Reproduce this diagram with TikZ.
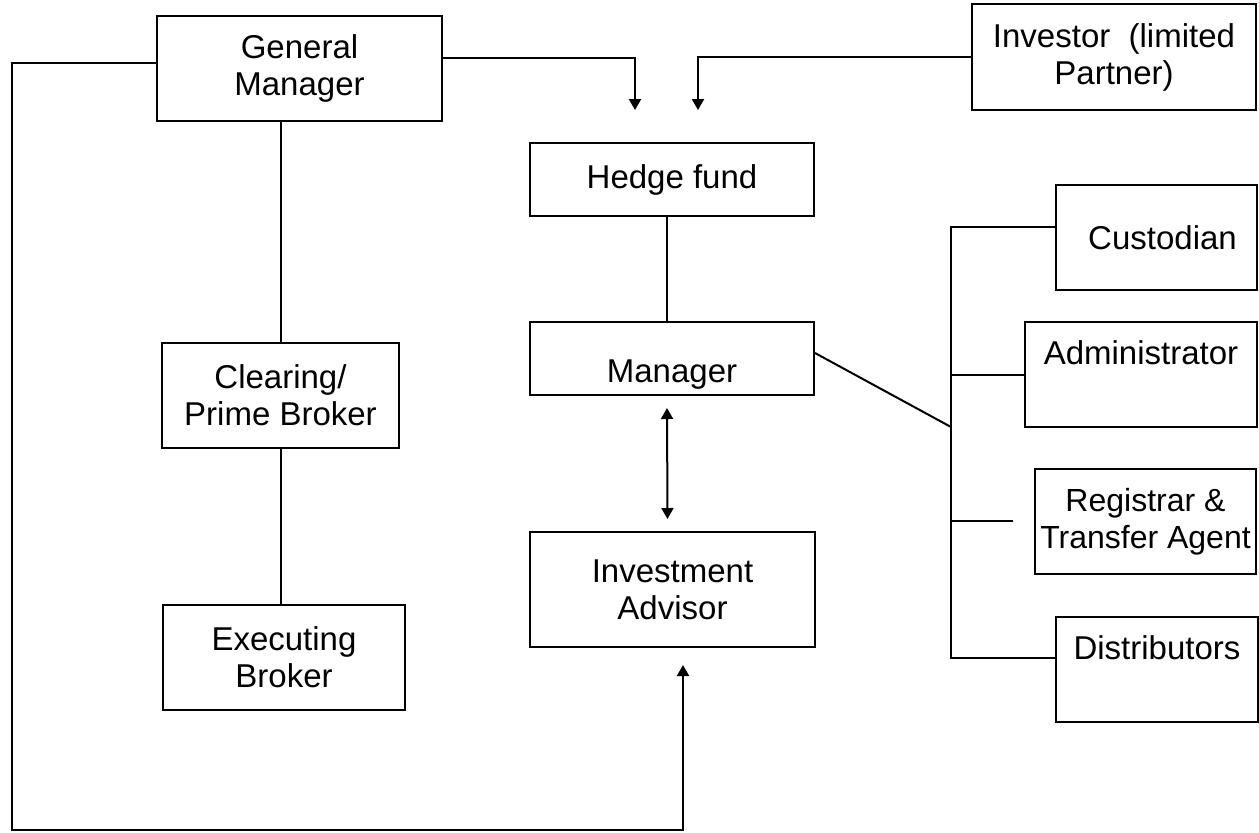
\documentclass[tikz,border=0pt]{standalone}
\usepackage{fontspec}
\setmainfont{Liberation Sans}
\usetikzlibrary{arrows.meta}
\usetikzlibrary{calc}

\begin{document}
\begin{tikzpicture}[x=0.5pt, y=-0.5pt, line width=1pt,
        box_style/.style={draw=black, line width=1pt, align=center, inner sep=2pt, font=\fontsize{16.5}{18.5}\selectfont},
        line_style/.style={draw=black, line width=1pt, -},
        arrow_style/.style={draw=black, line width=1pt, -{Triangle[length=5.5pt,width=6pt]}},
        both_style/.style={draw=black, line width=1pt, {Triangle[length=5.5pt,width=6pt]}-{Triangle[length=5.5pt,width=6pt]}},
        text_up/.style={text height=5pt, text depth=15.5pt},
        text_down/.style={text height=23.5pt, text depth=0pt}]

        \useasboundingbox (0,0) rectangle (1259,832);

        % boxes
        \node [box_style, minimum width=142.5pt, minimum height=52.5pt](gm) at (299.5,68.5) {General\\Manager};
        \node [box_style, minimum width=142pt, minimum height=53pt](inv) at (1114,57) {Investor\ \ (limited\\Partner)};
        \node [box_style, minimum width=142pt, minimum height=36.5pt](hf) at (672,179.5) {Hedge fund};
        \node [box_style, text_down, minimum width=142pt, minimum height=36.5pt](mgr) at (672,358.5) {Manager};
        \node [box_style, minimum width=142.5pt, minimum height=57.5pt](ia) at (672.5,589.5) {Investment\\Advisor};
        \node [box_style, minimum width=118.5pt, minimum height=52.5pt](cpb) at (280.5,395.5) {Clearing/\\Prime Broker};
        \node [box_style, minimum width=121pt, minimum height=52.5pt](eb) at (284,657.5) {Executing\\Broker};
        \node [box_style, minimum width=100.5pt, minimum height=52.5pt](cus) at (1156.5,237.5) {\hspace{6pt}Custodian};
        \node [box_style, text_up, minimum width=116pt, minimum height=52.5pt](adm) at (1141,374.5) {Administrator};
        \node [box_style, font=\fontsize{16}{18.5}\selectfont, minimum width=110.5pt, minimum height=52.5pt](rta) at (1145.5,521.5) {Registrar \&\\Transfer Agent};
        \node [box_style, text_up, minimum width=101pt, minimum height=52.5pt](dis) at (1157,669.5) {Distributors};

        % connector ends
        \coordinate (hf_in_left) at (635,110);
        \coordinate (hf_in_right) at (698,110);
        \coordinate (loop_corner) at (12,830);
        \coordinate (ia_in) at (683,665);
        \coordinate (bus_top) at (951,227);
        \coordinate (bus_mid) at (951,427);
        \coordinate (bus_bot) at (951,658);
        \coordinate (rta_stub) at (1013,521);

        % connectors
        \draw [arrow_style] (gm.east |- 0,58) -| (hf_in_left);
        \draw [arrow_style] (inv.west) -| (hf_in_right);
        \draw [arrow_style] (gm.west |- 0,63) -| (loop_corner) -| (ia_in);
        \draw [line_style] (cpb.north |- gm.south) -- (cpb.north);
        \draw [line_style] (cpb.south) -- (cpb.south |- eb.north);
        \draw [line_style] ([xshift=-2.5pt]hf.south) -- ([xshift=-2.5pt]mgr.north);
        \draw [both_style] ([xshift=-2.5pt,yshift=-6pt]mgr.south) -- ([xshift=-2.5pt,yshift=6pt]ia.north);
        \draw [line_style] (mgr.east |- 0,353) -- (bus_mid);
        \draw [line_style] (cus.west |- bus_top) -- (bus_top) -- (bus_bot) -- (dis.west |- bus_bot);
        \draw [line_style] (bus_top |- adm.west) -- (adm.west);
        \draw [line_style] (bus_top |- rta_stub) -- (rta_stub);
\end{tikzpicture}
\end{document}
